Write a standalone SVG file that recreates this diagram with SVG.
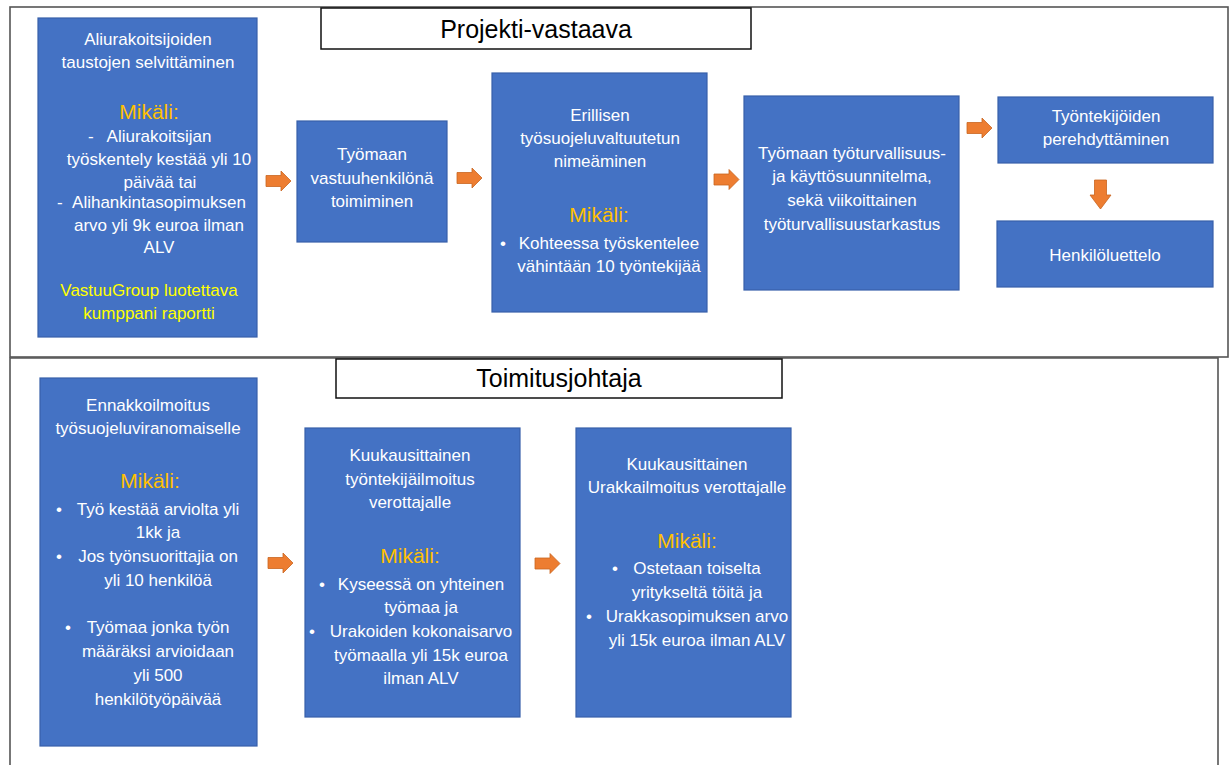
<svg xmlns="http://www.w3.org/2000/svg" width="1232" height="765" viewBox="0 0 1232 765">
  <defs>
    <style>
      .panel { fill: none; stroke: #555555; stroke-width: 1.6; }
      .title { fill: #ffffff; stroke: #111111; stroke-width: 1.5; }
      .box { fill: #4472C4; stroke: #3760AA; stroke-width: 1.2; }
      .arrow { fill: #ED7D31; stroke: #C9651F; stroke-width: 0.8; }
      text { font-family: "Liberation Sans", Arial, sans-serif; }
      .h { font-size: 25px; fill: #000000; text-anchor: middle; }
      .t { font-size: 17px; fill: #ffffff; text-anchor: middle; }
      .b { font-size: 17px; fill: #ffffff; }
      .m { font-size: 21px; fill: #FFC000; text-anchor: middle; }
      .y { font-size: 17px; fill: #FFFF00; text-anchor: middle; }
    </style>
    <path id="arrowRight" class="arrow" d="M0,4.5 H15 V0 L25,10 L15,20 V15.5 H0 Z"/>
    <path id="arrowDown" class="arrow" d="M4.5,0 H16.5 V15 H21 L10.5,29 L0,15 H4.5 Z"/>
  </defs>

  <rect width="1232" height="765" fill="#ffffff"/>

  <!-- panels -->
  <g id="panels">
    <rect class="panel" x="10" y="7" width="1218" height="350"/>
    <path class="panel" d="M10,765 V358 H1218 V765"/>
  </g>

  <!-- section headers -->
  <g id="header-projekti">
    <rect class="title" x="321" y="8" width="430" height="41"/>
    <text class="h" x="536" y="38">Projekti-vastaava</text>
  </g>
  <g id="header-toimitusjohtaja">
    <rect class="title" x="336" y="359" width="446" height="39"/>
    <text class="h" x="559" y="387">Toimitusjohtaja</text>
  </g>

  <!-- upper flow -->
  <g id="node-aliurakoitsijat">
    <rect class="box" x="38" y="18" width="219" height="319"/>
    <text class="t" x="148" y="45">Aliurakoitsijoiden</text>
    <text class="t" x="148" y="68">taustojen selvittäminen</text>
    <text class="m" x="149" y="119">Mikäli:</text>
    <text class="b" x="88" y="142">-</text>
    <text class="t" x="159" y="142">Aliurakoitsijan</text>
    <text class="t" x="159" y="165">työskentely kestää yli 10</text>
    <text class="t" x="160" y="188">päivää tai</text>
    <text class="b" x="57" y="208">-</text>
    <text class="t" x="159" y="208">Alihankintasopimuksen</text>
    <text class="t" x="159" y="231">arvo yli 9k euroa ilman</text>
    <text class="t" x="159" y="253">ALV</text>
    <text class="y" x="149" y="296">VastuuGroup luotettava</text>
    <text class="y" x="149" y="319">kumppani raportti</text>
  </g>

  <g id="node-vastuuhenkilo">
    <rect class="box" x="297" y="121" width="150" height="121"/>
    <text class="t" x="372" y="160">Työmaan</text>
    <text class="t" x="372" y="184">vastuuhenkilönä</text>
    <text class="t" x="372" y="207">toimiminen</text>
  </g>

  <g id="node-valtuutettu">
    <rect class="box" x="492" y="73" width="215" height="239"/>
    <text class="t" x="600" y="121">Erillisen</text>
    <text class="t" x="600" y="144">työsuojeluvaltuutetun</text>
    <text class="t" x="600" y="167">nimeäminen</text>
    <text class="m" x="599" y="222">Mikäli:</text>
    <text class="b" x="500" y="249">•</text>
    <text class="t" x="609" y="249">Kohteessa työskentelee</text>
    <text class="t" x="609" y="272">vähintään 10 työntekijää</text>
  </g>

  <g id="node-suunnitelma">
    <rect class="box" x="744" y="96" width="215" height="194"/>
    <text class="t" x="852" y="159">Työmaan työturvallisuus-</text>
    <text class="t" x="852" y="182">ja käyttösuunnitelma,</text>
    <text class="t" x="852" y="206">sekä viikoittainen</text>
    <text class="t" x="852" y="230">työturvallisuustarkastus</text>
  </g>

  <g id="node-perehdytys">
    <rect class="box" x="998" y="97" width="215" height="66"/>
    <text class="t" x="1106" y="122">Työntekijöiden</text>
    <text class="t" x="1106" y="145">perehdyttäminen</text>
  </g>

  <g id="node-henkiloluettelo">
    <rect class="box" x="997" y="221" width="216" height="66"/>
    <text class="t" x="1105" y="261">Henkilöluettelo</text>
  </g>

  <!-- lower flow -->
  <g id="node-ennakkoilmoitus">
    <rect class="box" x="40" y="378" width="217" height="368"/>
    <text class="t" x="148" y="411">Ennakkoilmoitus</text>
    <text class="t" x="148" y="434">työsuojeluviranomaiselle</text>
    <text class="m" x="150" y="488">Mikäli:</text>
    <text class="b" x="56" y="515">•</text>
    <text class="t" x="158" y="515">Työ kestää arviolta yli</text>
    <text class="t" x="158" y="538">1kk ja</text>
    <text class="b" x="56" y="562">•</text>
    <text class="t" x="158" y="562">Jos työnsuorittajia on</text>
    <text class="t" x="158" y="586">yli 10 henkilöä</text>
    <text class="b" x="65" y="633">•</text>
    <text class="t" x="158" y="633">Työmaa jonka työn</text>
    <text class="t" x="158" y="657">määräksi arvioidaan</text>
    <text class="t" x="158" y="681">yli 500</text>
    <text class="t" x="158" y="705">henkilötyöpäivää</text>
  </g>

  <g id="node-tyontekijailmoitus">
    <rect class="box" x="305" y="428" width="215" height="289"/>
    <text class="t" x="410" y="461">Kuukausittainen</text>
    <text class="t" x="410" y="485">työntekijäilmoitus</text>
    <text class="t" x="410" y="508">verottajalle</text>
    <text class="m" x="410" y="563">Mikäli:</text>
    <text class="b" x="319" y="590">•</text>
    <text class="t" x="421" y="590">Kyseessä on yhteinen</text>
    <text class="t" x="421" y="613">työmaa ja</text>
    <text class="b" x="309" y="637">•</text>
    <text class="t" x="421" y="637">Urakoiden kokonaisarvo</text>
    <text class="t" x="421" y="661">työmaalla yli 15k euroa</text>
    <text class="t" x="421" y="684">ilman ALV</text>
  </g>

  <g id="node-urakkailmoitus">
    <rect class="box" x="576" y="428" width="215" height="289"/>
    <text class="t" x="687" y="470">Kuukausittainen</text>
    <text class="t" x="687" y="493">Urakkailmoitus verottajalle</text>
    <text class="m" x="687" y="548">Mikäli:</text>
    <text class="b" x="612" y="574">•</text>
    <text class="t" x="697" y="574">Ostetaan toiselta</text>
    <text class="t" x="697" y="598">yritykseltä töitä ja</text>
    <text class="b" x="586" y="622">•</text>
    <text class="t" x="697" y="622">Urakkasopimuksen arvo</text>
    <text class="t" x="697" y="646">yli 15k euroa ilman ALV</text>
  </g>

  <!-- connectors -->
  <g id="connectors">
    <use href="#arrowRight" x="266" y="171"/>
    <use href="#arrowRight" x="457" y="168"/>
    <use href="#arrowRight" x="714" y="169.5"/>
    <use href="#arrowRight" x="967" y="118"/>
    <use href="#arrowDown" x="1090" y="180"/>
    <use href="#arrowRight" x="268" y="553"/>
    <use href="#arrowRight" x="535" y="553.5"/>
  </g>
</svg>
